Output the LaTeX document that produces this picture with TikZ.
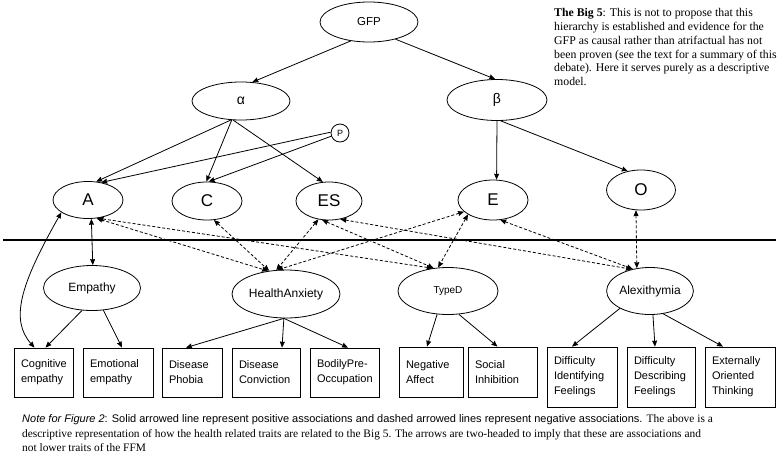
\documentclass[tikz,border=0pt]{standalone}
\usepackage{fontspec}
\setmainfont{Liberation Sans}
\newfontfamily\serifbig{Liberation Serif}
\usetikzlibrary{shapes.geometric,arrows.meta,calc}
\begin{document}
\begin{tikzpicture}[x=1pt,y=-1pt,
 ell/.style={draw,ellipse,inner sep=0pt,line width=0.8pt},
 box/.style={draw,rectangle,line width=0.8pt,inner xsep=7pt,inner ysep=0pt,align=left,font=\fontsize{11}{15}\selectfont},
 arr/.style={line width=0.8pt,-{Stealth[length=6pt,width=5pt,inset=0.5pt]}},
 darr/.style={line width=0.8pt,{Stealth[length=6pt,width=5pt,inset=0.5pt]}-{Stealth[length=6pt,width=5pt,inset=0.5pt]}},
 negarr/.style={darr,dash pattern=on 3pt off 2pt}
]
\useasboundingbox (0,0) rectangle (779,455);
% upper level
\node[ell,minimum width=98pt,minimum height=40pt,font=\fontsize{11.5}{13}\selectfont] (gfp) at (369,22) {GFP};
\node[ell,minimum width=98pt,minimum height=38pt,font=\fontsize{14}{16}\selectfont] (al) at (241,101) {α};
\node[ell,minimum width=100pt,minimum height=41pt,font=\fontsize{14}{16}\selectfont] (be) at (497,100) {β};
\node[draw,circle,line width=0.8pt,minimum size=18pt,inner sep=0pt,font=\fontsize{9}{10}\selectfont] (p) at (340,133) {P};
\node[ell,minimum width=70pt,minimum height=37pt,font=\fontsize{17}{19}\selectfont] (A) at (88,200) {A};
\node[ell,minimum width=70pt,minimum height=38pt,font=\fontsize{17}{19}\selectfont] (C) at (207,201) {C};
\node[ell,minimum width=66pt,minimum height=38pt,font=\fontsize{17}{19}\selectfont] (ES) at (329,201) {ES};
\node[ell,minimum width=70pt,minimum height=40pt,font=\fontsize{17}{19}\selectfont] (E) at (493,200) {E};
\node[ell,minimum width=69pt,minimum height=40pt,font=\fontsize{17}{19}\selectfont] (O) at (641,190) {O};
% lower level
\node[ell,minimum width=97pt,minimum height=45pt,font=\fontsize{12}{14}\selectfont] (emp) at (92,288) {Empathy};
\node[ell,minimum width=108pt,minimum height=48pt,font=\fontsize{12}{14}\selectfont] (ha) at (286,294) {HealthAnxiety};
\node[ell,minimum width=100pt,minimum height=47pt,font=\fontsize{10}{12}\selectfont] (td) at (448,291) {TypeD};
\node[ell,minimum width=85pt,minimum height=47pt,font=\fontsize{12}{14}\selectfont] (alx) at (650,291) {Alexithymia};
% boxes
\node[box,text width=45pt,minimum height=49pt] (cog) at (43.5,372.5) {Cognitive\\empathy};
\node[box,text width=56pt,minimum height=49pt] (emo) at (118,372.5) {Emotional\\empathy};
\node[box,text width=46pt,minimum height=49pt] (dph) at (192,372.5) {Disease\\Phobia};
\node[box,text width=54pt,minimum height=49pt] (dco) at (266,372.5) {Disease\\Conviction};
\node[box,text width=55pt,minimum height=49pt] (bod) at (344.5,372.5) {BodilyPre-\\Occupation};
\node[box,text width=50pt,minimum height=50pt] (neg) at (431,372) {Negative\\Affect};
\node[box,text width=55pt,minimum height=50pt] (soc) at (502.5,372) {Social\\Inhibition};
\node[box,text width=56pt,minimum height=60pt] (did) at (582,377) {Difficulty\\Identifying\\Feelings};
\node[box,text width=54pt,minimum height=60pt] (dde) at (661,377) {Difficulty\\Describing\\Feelings};
\node[box,text width=56pt,minimum height=60pt] (ext) at (740,377) {Externally\\Oriented\\Thinking};
% separator
\draw[line width=2pt] (3,240) -- (776,240);
% solid hierarchy
\draw[arr] (gfp.-134) -- (al.59);
\draw[arr] (gfp.-33) -- (be.95);
\draw[arr] (al.-118) -- (A.66);
\draw[arr] (al.-116) -- (C.92);
\draw[arr] (al.-112) -- (ES.108);
\draw[arr] (p.175) -- (A.53);
\draw[arr] (p.-160) -- (C.85);
\draw[arr] (be.-90) -- (E.80);
\draw[arr] (be.-80) -- (O.125);
\draw[arr] (emp.-114) -- ([xshift=2pt]cog.north);
\draw[arr] (emp.-63) -- ([xshift=4pt]emo.north);
\draw[arr] (ha.-95) -- ([xshift=-6pt]dph.north);
\draw[arr] (ha.-95) -- ([xshift=16pt]dco.north);
\draw[arr] (ha.-95) -- ([xshift=3.5pt]bod.north);
\draw[arr] (td.-115) -- ([xshift=-4pt]neg.north);
\draw[arr] (td.-65) -- ([xshift=-5pt]soc.north);
\draw[arr] (alx.-150) -- ([xshift=-10pt]did.north);
\draw[arr] (alx.-83) -- ([xshift=-6pt]dde.north);
\draw[arr] (alx.-60) -- ([xshift=-17pt]ext.north);
\draw[darr] (A.-80) -- (emp.88);
\draw[darr] (A.-155) .. controls (20,285) and (10,320) .. ([xshift=-9pt]cog.north);
% negative associations
\draw[negarr] (A.-65) -- (ha.128);
\draw[negarr] (A.-62) -- (td.124);
\draw[negarr] (C.-70) -- (ha.126);
\draw[negarr] (ES.-120) -- (ha.112);
\draw[negarr] (E.-158) -- (ha.110);
\draw[negarr] (ES.-110) -- (td.122);
\draw[negarr] (E.-150) -- (td.113);
\draw[negarr] (ES.-58) -- (alx.130);
\draw[negarr] (E.-70) -- (alx.128);
\draw[negarr] (O.-104) -- (alx.120);
% texts
\node[anchor=north west,align=left,inner sep=0pt,font=\serifbig\fontsize{11.8}{13.9}\selectfont] (big5) at (554,8)
 {\textbf{The Big 5}: This is not to propose that this\\hierarchy is established and evidence for the\\GFP as causal rather than atrifactual has not\\been proven (see the text for a summary of this\\debate). Here it serves purely as a descriptive\\model.};
\node[anchor=base west,inner sep=0pt,font=\fontsize{11}{12}\selectfont] (n1) at (22,422)
 {\textit{Note for Figure 2}: Solid arrowed line represent positive associations and dashed arrowed lines represent negative associations. {\serifbig\fontsize{11.4}{12}\selectfont The above is a}};
\node[anchor=base west,inner sep=0pt,font=\serifbig\fontsize{11.4}{12}\selectfont] (n2) at (22,437)
 {descriptive representation of how the health related traits are related to the Big 5. The arrows are two-headed to imply that these are associations and};
\node[anchor=base west,inner sep=0pt,font=\serifbig\fontsize{11.4}{12}\selectfont] (n3) at (22,451)
 {not lower traits of the FFM};
\end{tikzpicture}
\end{document}
